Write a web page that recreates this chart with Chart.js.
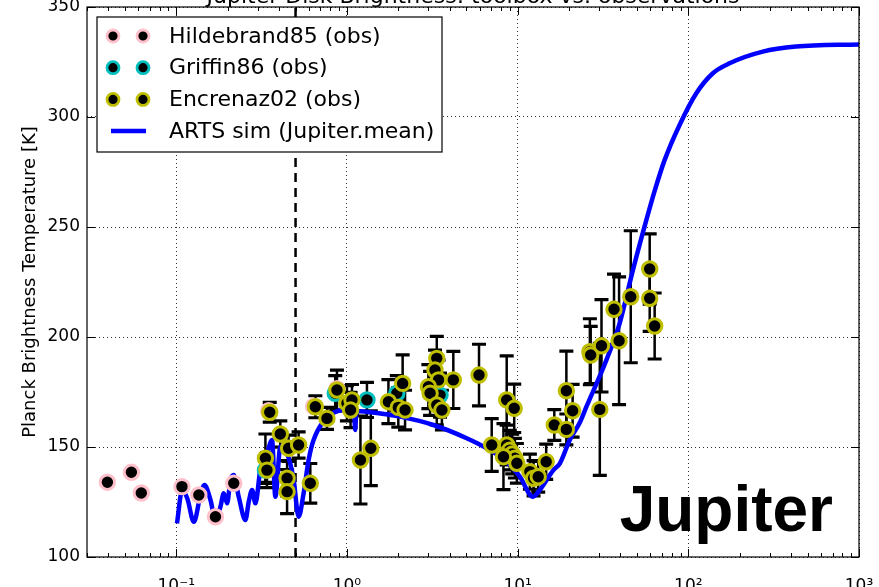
<!DOCTYPE html>
<html>
<head>
<meta charset="utf-8">
<script src="https://cdn.jsdelivr.net/npm/chart.js@4/dist/chart.umd.min.js"></script>
<style>
  html, body { margin: 0; padding: 0; background: #fff; overflow: hidden; width: 879px; height: 587px; }
  #wrap { position: absolute; left: 0; top: -40px; width: 879px; height: 657px; }
</style>
</head>
<body>
<div id="wrap"><canvas id="c"></canvas></div>
<script>
// Disk-averaged brightness temperature of Jupiter: observations and model

// Hildebrand et al. 1985
const hildebrandFreq = [0.0395, 0.0546, 0.0624, 0.108, 0.1356, 0.1697, 0.2172, 0.348, 0.638, 0.874];
const hildebrandTb   = [134.0, 138.5, 129.1, 132.0, 128.2, 118.3, 133.5, 166.5, 168.5, 176.5];

// Griffin et al. 1986
const griffinFreq = [0.333, 0.854, 1.31, 1.96, 3.51];
const griffinTb   = [139.5, 174.4, 171.4, 174.4, 173.6];
const griffinErr  = [6, 8, 8, 8, 10];

// Encrenaz et al. 2002
const encrenazFreq = [0.353, 0.407, 0.455, 0.521, 0.333, 0.340, 0.446, 0.446, 0.610, 0.653,
                      0.764, 0.874, 1.00, 1.07, 1.05, 1.20, 1.38, 1.75, 2.12, 2.00,
                      2.19, 3.36, 3.28, 3.44, 3.00, 3.07, 3.36, 3.60, 4.20, 5.94,
                      8.63, 9.55, 7.05, 8.63, 9.00, 9.30, 9.64, 9.90, 8.26, 11.8,
                      12.4, 13.2, 14.7, 16.4, 19.3, 21.0, 19.3, 26.5, 26.8, 31.0,
                      30.3, 36.7, 39.3, 46.0, 59.4, 59.4, 63.5];
const encrenazTb   = [165.8, 155.9, 149.4, 150.9, 144.9, 139.5, 135.8, 129.7, 133.5, 168.3,
                      163.0, 175.9, 169.9, 171.4, 166.8, 144.1, 149.4, 170.6, 178.9, 168.0,
                      166.8, 190.3, 185.0, 180.5, 177.4, 174.4, 169.1, 166.8, 180.5, 182.7,
                      171.4, 167.6, 150.9, 150.9, 148.6, 146.8, 144.9, 142.6, 145.6, 138.8,
                      135.8, 136.5, 143.3, 160.0, 175.6, 166.5, 158.0, 193.3, 191.8, 196.0,
                      167.1, 212.6, 198.3, 218.3, 230.9, 217.6, 205.0];
const encrenazErr  = [4.5, 6, 6, 6, 11, 8, 8, 10, 9, 5,
                      5, 9, 8, 7, 8, 20, 17, 10, 13, 9,
                      9, 10, 9, 9, 10, 10, 9, 9, 13, 14,
                      20, 11, 12, 9, 9, 9, 9, 9, 15, 8,
                      8, 7, 8, 7, 18, 12, 7, 15, 13, 21,
                      30, 16, 29, 30, 16, 15, 15];

// ARTS simulation, Jupiter mean atmosphere
const artsFreq = [0.101, 0.1084, 0.116, 0.1268, 0.1387, 0.1464, 0.1587, 0.1697, 0.1816, 0.1898,
                  0.1987, 0.2077, 0.2172, 0.2323, 0.2543, 0.2659, 0.2783, 0.291, 0.3112, 0.3406,
                  0.3642, 0.3808, 0.4073, 0.446, 0.4873, 0.5212, 0.5575, 0.5963, 0.6377, 0.7984,
                  1.0, 1.10, 1.118, 1.135, 1.30, 2.05, 3.21, 5.03, 6.59, 8.63,
                  10.3, 12.3, 13.5, 16.2, 17.7, 20.2, 23.1, 25.3, 33.1, 39.6,
                  47.4, 56.8, 63.5, 72.7, 88.9, 111.4, 139.3, 174.4, 273, 428, 1000];
const artsTb   = [115.3, 130.5, 126.7, 116.0, 128.2, 132.7, 125.9, 116.8, 122.9, 129.0,
                  124.4, 135.0, 137.3, 127.4, 116.8, 125.1, 130.5, 124.4, 140.0, 147.1,
                  153.2, 127.4, 150.1, 147.1, 135.0, 118.3, 129.0, 144.1, 153.2, 164.5,
                  166.8, 166.6, 157.7, 166.4, 166.0, 163.8, 160.0, 154.0, 149.4, 143.3,
                  136.5, 127.4, 130.5, 139.5, 142.6, 153.2, 161.0, 168.3, 189.5, 206.2,
                  230.5, 253.2, 266.4, 280.5, 296.4, 310.8, 319.9, 324.4, 329.7, 332.0, 333.0];

// Frequency cut-off marker [THz]
const cutoffFreq = 0.5;

// Axes
const freqRange = [0.03, 1000];
const tempRange = [100, 350];
const xTickValues = [0.1, 1, 10, 100, 1000];
const xTickLabels = ['10\u207B\u00B9', '10\u2070', '10\u00B9', '10\u00B2', '10\u00B3'];
const yTickValues = [100, 150, 200, 250, 300, 350];
const yTickLabels = ['100', '150', '200', '250', '300', '350'];

const FONT = 'DejaVu Sans';
Chart.defaults.font.family = FONT;
Chart.defaults.color = '#000';

const toPoints = (xs, ys) => xs.map((v, i) => ({ x: v, y: ys[i] }));

// vertical error bars with caps, under the markers
const errorBarPlugin = {
  id: 'errorBars',
  beforeDatasetsDraw(chart) {
    const { ctx, chartArea: a, scales: { x, y } } = chart;
    ctx.save();
    ctx.beginPath();
    ctx.rect(a.left, a.top, a.width, a.height);
    ctx.clip();
    ctx.strokeStyle = '#000';
    chart.data.datasets.forEach((ds, di) => {
      if (!ds.errors || !chart.isDatasetVisible(di)) return;
      ds.data.forEach((p, i) => {
        const e = ds.errors[i];
        if (!e) return;
        const px = x.getPixelForValue(p.x);
        const yt = y.getPixelForValue(p.y + e);
        const yb = y.getPixelForValue(p.y - e);
        ctx.lineWidth = 2.5;
        ctx.beginPath();
        ctx.moveTo(px, yt); ctx.lineTo(px, yb);
        ctx.stroke();
        ctx.lineWidth = 3.2;
        ctx.beginPath();
        ctx.moveTo(px - 7, yt); ctx.lineTo(px + 7, yt);
        ctx.moveTo(px - 7, yb); ctx.lineTo(px + 7, yb);
        ctx.stroke();
      });
    });
    ctx.restore();
  }
};

// axes frame, inward tick marks, planet label and legend box
const decorPlugin = {
  id: 'decor',
  afterDraw(chart) {
    const { ctx, chartArea: a, scales: { x, y } } = chart;
    ctx.save();
    // frame
    ctx.strokeStyle = '#000';
    ctx.lineWidth = 1.2;
    ctx.strokeRect(a.left, a.top, a.width, a.height);
    // x ticks: major at decades, minor at 2..9
    ctx.lineWidth = 1;
    ctx.beginPath();
    const lo = Math.floor(Math.log10(x.min)), hi = Math.ceil(Math.log10(x.max));
    for (let d = lo; d <= hi; d++) {
      for (let k = 1; k <= 9; k++) {
        const v = k * Math.pow(10, d);
        if (v < x.min * 0.999 || v > x.max * 1.001) continue;
        const px = Math.round(x.getPixelForValue(v)) + 0.5;
        const len = k === 1 ? 8 : 4;
        ctx.moveTo(px, a.bottom); ctx.lineTo(px, a.bottom - len);
        ctx.moveTo(px, a.top); ctx.lineTo(px, a.top + len);
      }
    }
    yTickValues.forEach(v => {
      const py = Math.round(y.getPixelForValue(v)) + 0.5;
      ctx.moveTo(a.left, py); ctx.lineTo(a.left + 8, py);
      ctx.moveTo(a.right, py); ctx.lineTo(a.right - 8, py);
    });
    ctx.stroke();

    // planet name
    ctx.fillStyle = '#000';
    ctx.font = 'bold 64px "Liberation Sans", Arial, sans-serif';
    ctx.textAlign = 'right';
    ctx.textBaseline = 'alphabetic';
    ctx.fillText('Jupiter', a.right - 26, a.bottom - 26);

    // legend
    const bx = a.left + 10, by = a.top + 10, bw = 345, bh = 135;
    ctx.fillStyle = '#fff';
    ctx.fillRect(bx, by, bw, bh);
    ctx.strokeStyle = '#000';
    ctx.lineWidth = 1.2;
    ctx.strokeRect(bx, by, bw, bh);
    ctx.font = '22px "' + FONT + '"';
    ctx.textAlign = 'left';
    ctx.textBaseline = 'middle';
    let row = 0;
    chart.data.datasets.forEach(ds => {
      if (ds.inLegend === false) return;
      const cy = by + 19 + row * 31.7;
      if (ds.showLine) {
        ctx.strokeStyle = ds.borderColor;
        ctx.lineWidth = ds.borderWidth;
        ctx.beginPath();
        ctx.moveTo(bx + 14, cy); ctx.lineTo(bx + 49, cy);
        ctx.stroke();
      } else {
        [bx + 16, bx + 46].forEach(mx => {
          ctx.beginPath();
          ctx.arc(mx, cy, 6, 0, Math.PI * 2);
          ctx.fillStyle = ds.pointBackgroundColor;
          ctx.fill();
          ctx.lineWidth = 2.8;
          ctx.strokeStyle = ds.pointBorderColor;
          ctx.stroke();
        });
      }
      ctx.fillStyle = '#000';
      ctx.fillText(ds.label, bx + 72, cy + 1);
      row++;
    });
    ctx.restore();
  }
};

const marker = (edge) => ({
  showLine: false,
  pointRadius: 7.2,
  pointHoverRadius: 7.2,
  pointBorderWidth: 3,
  pointBackgroundColor: '#000',
  pointBorderColor: edge
});

new Chart(document.getElementById('c'), {
  type: 'scatter',
  data: {
    datasets: [
      Object.assign({ label: 'Hildebrand85 (obs)', data: toPoints(hildebrandFreq, hildebrandTb), order: 2 }, marker('#ffc0cb')),
      Object.assign({ label: 'Griffin86 (obs)', data: toPoints(griffinFreq, griffinTb), errors: griffinErr, order: 1 }, marker('#00bfbf')),
      Object.assign({ label: 'Encrenaz02 (obs)', data: toPoints(encrenazFreq, encrenazTb), errors: encrenazErr, order: 0 }, marker('#bfbf00')),
      {
        label: 'ARTS sim (Jupiter.mean)',
        data: toPoints(artsFreq, artsTb),
        showLine: true,
        pointRadius: 0,
        borderColor: '#0000ff',
        borderWidth: 4.5,
        cubicInterpolationMode: 'monotone',
        order: 3
      },
      {
        label: 'cut-off',
        inLegend: false,
        data: [{ x: cutoffFreq, y: tempRange[0] }, { x: cutoffFreq, y: tempRange[1] }],
        showLine: true,
        pointRadius: 0,
        borderColor: '#000',
        borderWidth: 2.5,
        borderDash: [9, 6],
        order: 4
      }
    ]
  },
  options: {
    responsive: true,
    maintainAspectRatio: false,
    animation: false,
    devicePixelRatio: 1,
    layout: { padding: { left: 0, right: 20, top: 0, bottom: 0 } },
    plugins: {
      legend: { display: false },
      tooltip: { enabled: false },
      title: {
        display: true,
        fullSize: false,
        text: 'Jupiter Disk Brightness: toolbox vs. observations',
        color: '#000',
        font: { family: FONT, size: 22, weight: 'normal', lineHeight: 0.85 },
        padding: { top: 28, bottom: 0.3 }
      }
    },
    scales: {
      x: {
        type: 'logarithmic',
        min: freqRange[0],
        max: freqRange[1],
        afterBuildTicks: s => { s.ticks = xTickValues.map(v => ({ value: v })); },
        afterFit: s => { s.height = 60; s.paddingLeft = 0; s.paddingRight = 0; },
        grid: { color: '#333', lineWidth: 1, drawTicks: false },
        border: { display: false, dash: [1, 3] },
        ticks: {
          autoSkip: false,
          maxRotation: 0,
          padding: 19,
          font: { size: 17 },
          color: '#000',
          callback: (v) => { const i = xTickValues.indexOf(v); return i >= 0 ? xTickLabels[i] : ''; }
        }
      },
      y: {
        type: 'linear',
        min: tempRange[0],
        max: tempRange[1],
        afterBuildTicks: s => { s.ticks = yTickValues.map(v => ({ value: v })); },
        afterFit: s => { s.width = 87; },
        grid: { color: '#333', lineWidth: 1, drawTicks: false },
        border: { display: false, dash: [1, 3] },
        title: {
          display: true,
          text: 'Planck Brightness Temperature [K]',
          color: '#000',
          font: { size: 18 },
          padding: { top: 20, bottom: 0 }
        },
        ticks: {
          padding: 7,
          font: { size: 17 },
          color: '#000',
          callback: (v) => { const i = yTickValues.indexOf(v); return i >= 0 ? yTickLabels[i] : ''; }
        }
      }
    }
  },
  plugins: [errorBarPlugin, decorPlugin]
});
</script>
</body>
</html>
